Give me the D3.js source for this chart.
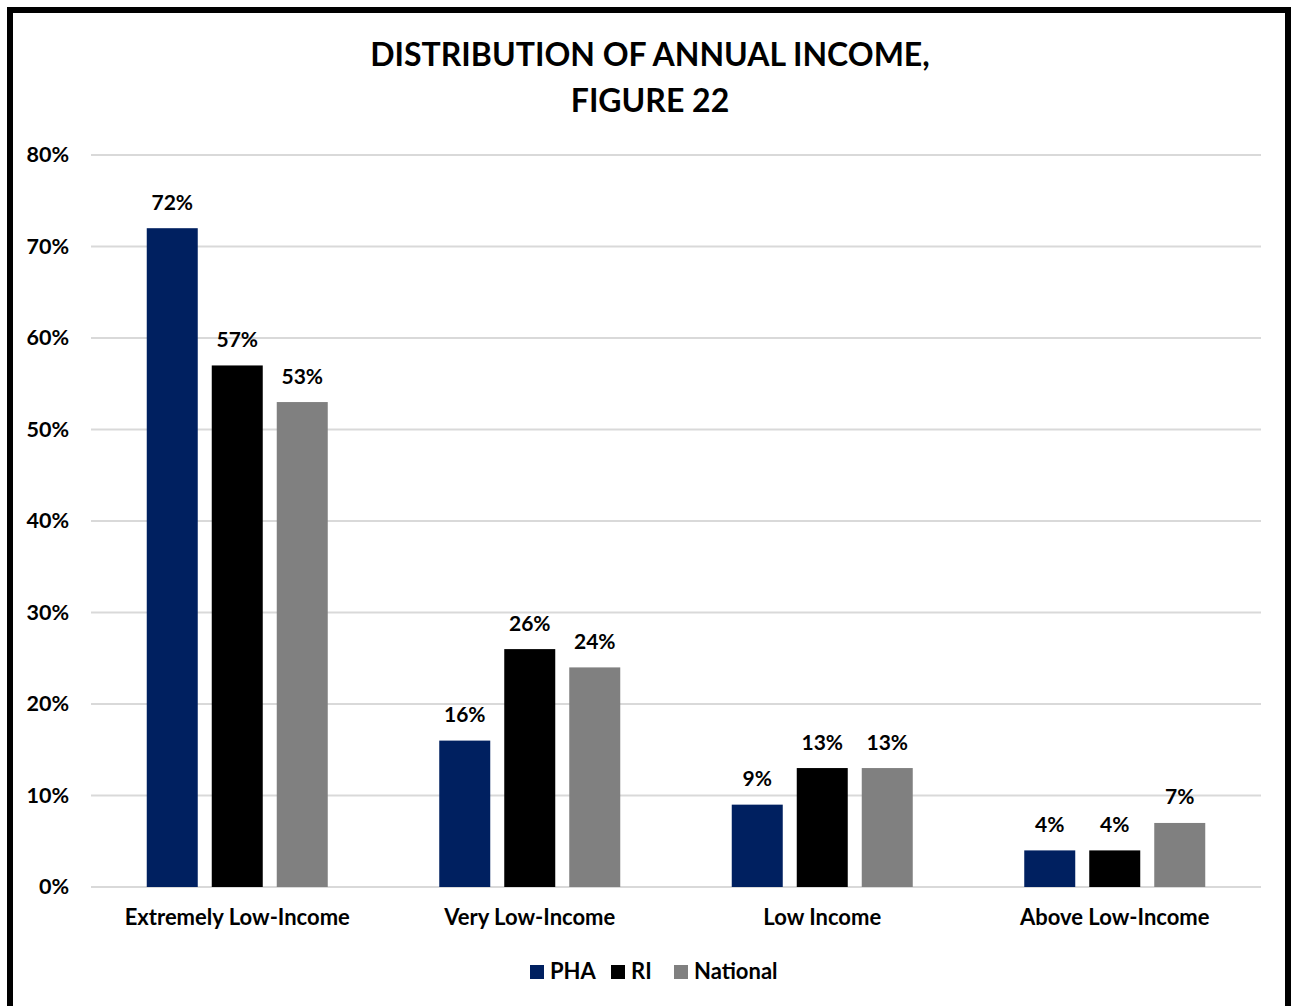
<!DOCTYPE html>
<html>
<head>
<meta charset="utf-8">
<script src="https://cdn.jsdelivr.net/npm/d3@7"></script>
<style>
body{margin:0;background:#fff;}
text{font-family:Lato,"Open Sans",sans-serif;font-weight:bold;fill:#000;}
</style>
</head>
<body>
<div id="chart"></div>
<script>
// data
const categories = ["Extremely Low-Income", "Very Low-Income", "Low Income", "Above Low-Income"];
const series = ["PHA", "RI", "National"];
const pha = [72, 16, 9, 4];
const ri = [57, 26, 13, 4];
const national = [53, 24, 13, 7];
const yTicks = [0, 10, 20, 30, 40, 50, 60, 70, 80];
const colors = ["#002060", "#000000", "#808080"];

const w = 1291, h = 1006;
const svg = d3.select("#chart").append("svg")
  .attr("width", w).attr("height", h);

// outer frame (bottom edge runs off the picture)
svg.append("rect").attr("x", 10).attr("y", 10).attr("width", 1278).attr("height", 1010)
  .attr("fill", "#fff").attr("stroke", "#000").attr("stroke-width", 6);

svg.append("text").attr("x", 650).attr("y", 66).attr("text-anchor", "middle")
  .style("font-size", "32px").text("DISTRIBUTION OF ANNUAL INCOME,");
svg.append("text").attr("x", 650).attr("y", 112).attr("text-anchor", "middle")
  .style("font-size", "32px").text("FIGURE 22");

const plotL = 91, plotR = 1261, plotT = 155, plotB = 887;
const y = d3.scaleLinear().domain([0, 80]).range([plotB, plotT]);
const x0 = d3.scaleBand().domain(categories).range([plotL, plotR]);
const x1 = d3.scaleBand().domain(series).range([-90.5, 90.5]).paddingInner(14 / 65).paddingOuter(0);

// gridlines
svg.append("g").selectAll("line").data(yTicks).enter().append("line")
  .attr("x1", plotL).attr("x2", plotR)
  .attr("y1", d => y(d)).attr("y2", d => y(d))
  .attr("stroke", "#d9d9d9").attr("stroke-width", 2);

svg.append("g").selectAll("text").data(yTicks).enter().append("text")
  .attr("x", 69).attr("y", d => y(d) + 7).attr("text-anchor", "end")
  .style("font-size", "21.5px").text(d => d + "%");

const rows = categories.map((c, i) => ({cat: c, vals: [pha[i], ri[i], national[i]]}));

const groups = svg.append("g").selectAll("g").data(rows).enter().append("g")
  .attr("transform", d => `translate(${x0(d.cat) + x0.bandwidth() / 2},0)`);

groups.selectAll("rect").data(d => d.vals.map((v, j) => ({s: series[j], v, j}))).enter().append("rect")
  .attr("x", d => x1(d.s)).attr("width", x1.bandwidth())
  .attr("y", d => y(d.v)).attr("height", d => y(0) - y(d.v))
  .attr("fill", d => colors[d.j]);

groups.selectAll("text.val").data(d => d.vals.map((v, j) => ({s: series[j], v, j}))).enter().append("text")
  .attr("class", "val")
  .attr("x", d => x1(d.s) + x1.bandwidth() / 2).attr("y", d => y(d.v) - 18.5)
  .attr("text-anchor", "middle").style("font-size", "21px").text(d => d.v + "%");

groups.append("text").attr("x", 0).attr("y", 925).attr("text-anchor", "middle")
  .style("font-size", "22px").text(d => d.cat);

// legend
const legendX = [530, 611, 674];
const lg = svg.append("g").selectAll("g").data(series).enter().append("g")
  .attr("transform", (d, i) => `translate(${legendX[i]},965)`);
lg.append("rect").attr("width", 14).attr("height", 14).attr("fill", (d, i) => colors[i]);
lg.append("text").attr("x", 20).attr("y", 14).style("font-size", "22px").text(d => d);
</script>
</body>
</html>
